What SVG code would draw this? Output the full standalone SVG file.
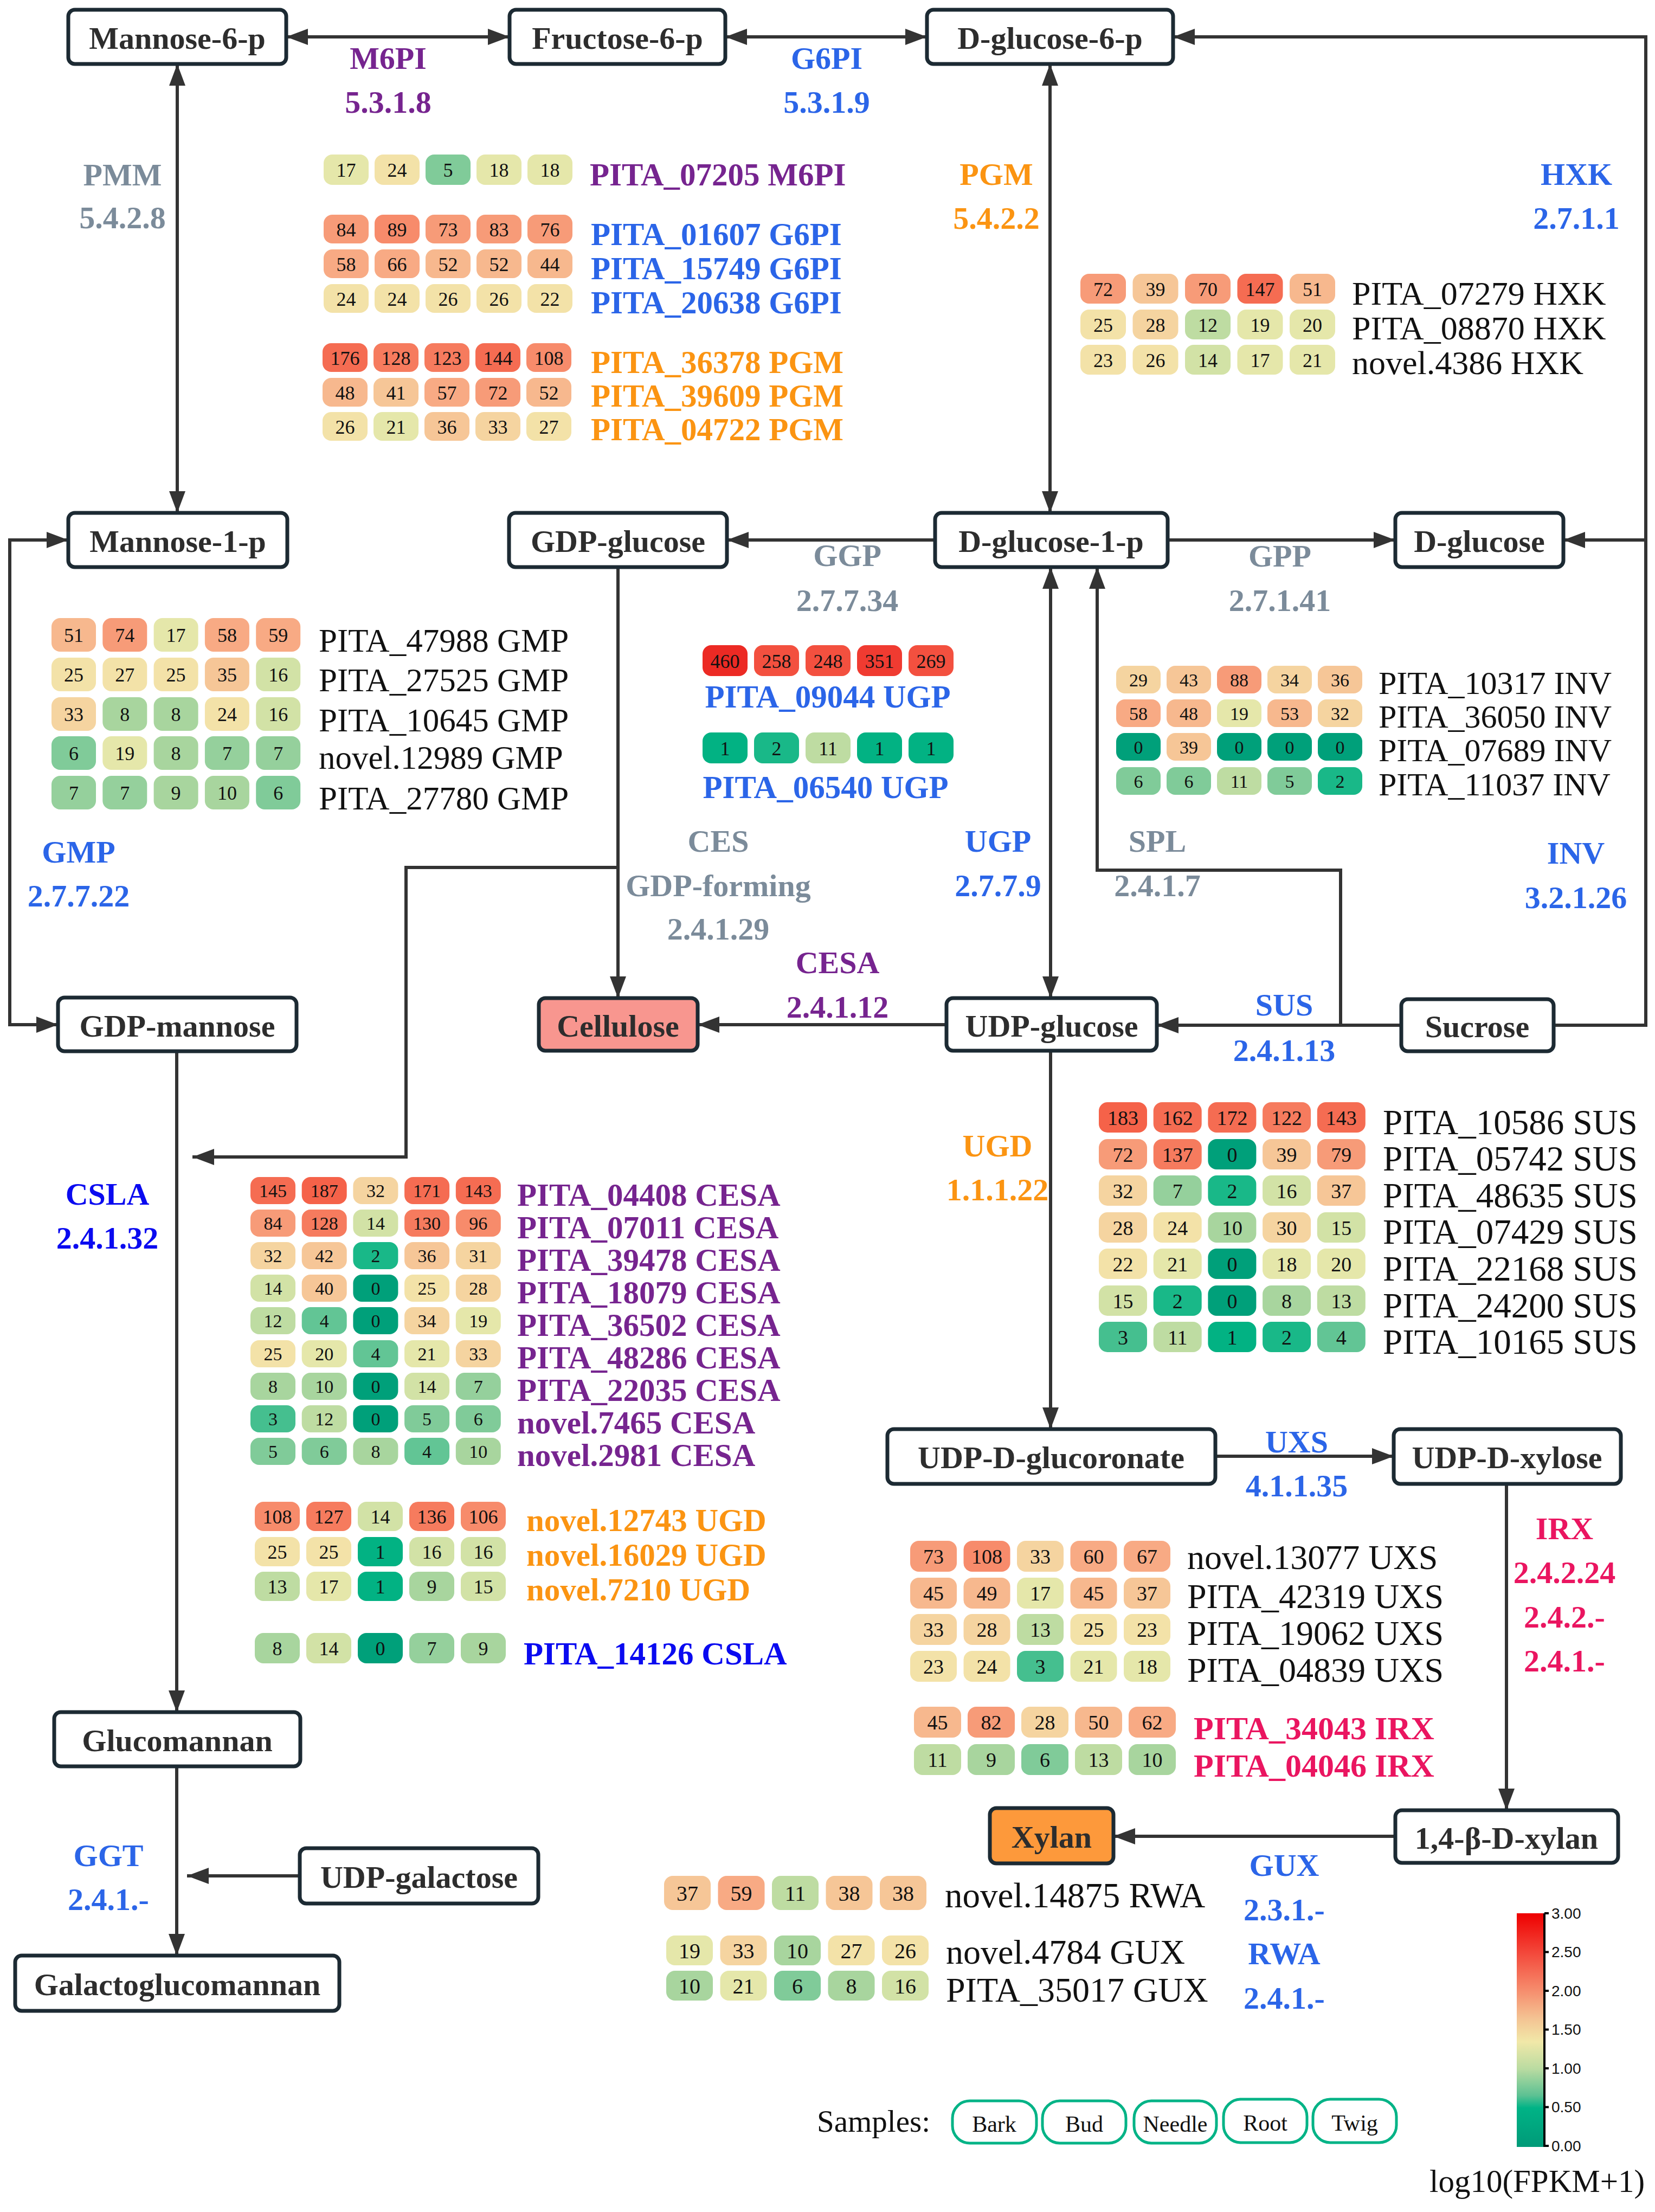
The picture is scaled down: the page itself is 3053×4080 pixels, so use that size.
<svg xmlns="http://www.w3.org/2000/svg" width="3053" height="4080" viewBox="0 0 3053 4080">
<defs>
<style>
text{font-family:"Liberation Serif","Times New Roman",serif}
.n rect{fill:#fff;stroke:#1c2a33;stroke-width:7}
.n text{font-weight:bold;font-size:58px;fill:#2d2d2d;text-anchor:middle}
.conn path{stroke:#333;stroke-width:6;fill:none}
.e{font-weight:bold;font-size:58px;text-anchor:middle}
.pu{fill:#76248f}.bl{fill:#2b65e8}.gy{fill:#7b8b9a}.or{fill:#fb9412}.cr{fill:#ea1560}.db{fill:#0a0af0}
.g{font-size:58px;fill:#111}
.gb{font-size:59px;font-weight:bold}
.hm text{font-size:36px;fill:#111;text-anchor:middle}
.hm.S text{font-size:34px}
.hm.L text{font-size:38px}
.hm.XL text{font-size:40px}
.k0{fill:#00a07a}.k3{fill:#02b283}.k5{fill:#19b888}.k6{fill:#45bf8f}.k7{fill:#62c595}.k8{fill:#80cb99}.k9{fill:#95d09c}.k10{fill:#a8d59e}.k11{fill:#bedca2}.k12{fill:#d2e2a6}.k13{fill:#e5e7aa}.k14{fill:#f3e2a8}.k15{fill:#f5d4a0}.k16{fill:#f6c697}.k17{fill:#f7b88e}.k18{fill:#f8aa84}.k19{fill:#f79b78}.k20{fill:#f78b6b}.k21{fill:#f67b5e}.k22{fill:#f56c52}.k23{fill:#f56249}.k24{fill:#f3503f}.k25{fill:#f03b31}.k27{fill:#ec2a24}
.pill rect{fill:#fff;stroke:#00b386;stroke-width:5}
.pill text{font-size:42px;fill:#111;text-anchor:middle}
.cbl{font-family:"Liberation Sans",Arial,sans-serif;font-size:28px;fill:#111}
</style>
<marker id="ah" viewBox="0 0 40 30" refX="40" refY="15" markerWidth="40" markerHeight="30" markerUnits="userSpaceOnUse" orient="auto-start-reverse"><path d="M0,0 L40,15 L0,30 z" fill="#333"/></marker>
<linearGradient id="cb" x1="0" y1="0" x2="0" y2="1">
<stop offset="0" stop-color="#ee0000"/>
<stop offset="0.167" stop-color="#f3473a"/>
<stop offset="0.333" stop-color="#f68e6e"/>
<stop offset="0.45" stop-color="#f4c393"/>
<stop offset="0.55" stop-color="#f1e8a8"/>
<stop offset="0.667" stop-color="#b9dba1"/>
<stop offset="0.78" stop-color="#5cc193"/>
<stop offset="0.833" stop-color="#00b386"/>
<stop offset="1" stop-color="#009a78"/>
</linearGradient>
</defs>
<rect width="3053" height="4080" fill="#fff"/>

<g id="connectors" class="conn">
<path d="M528,68 H940" marker-start="url(#ah)" marker-end="url(#ah)"/>
<path d="M1338,68 H1710" marker-start="url(#ah)" marker-end="url(#ah)"/>
<path d="M327,118 V946" marker-start="url(#ah)" marker-end="url(#ah)"/>
<path d="M1937,118 V946" marker-start="url(#ah)" marker-end="url(#ah)"/>
<path d="M1725,996 H1341" marker-end="url(#ah)"/>
<path d="M2154,996 H2574" marker-end="url(#ah)"/>
<path d="M2866,1891 H3036 V68 H2164" marker-end="url(#ah)"/>
<path d="M3036,996 H2884" marker-end="url(#ah)"/>
<path d="M126,996 H18 V1890 H107" marker-start="url(#ah)" marker-end="url(#ah)"/>
<path d="M1140,1046 V1841" marker-end="url(#ah)"/>
<path d="M1140,1600 H749 V2134 H355" marker-end="url(#ah)"/>
<path d="M1746,1890 H1287" marker-end="url(#ah)"/>
<path d="M1938,1046 V1841" marker-start="url(#ah)" marker-end="url(#ah)"/>
<path d="M2473,1891 V1605 H2024 V1046" marker-end="url(#ah)"/>
<path d="M2585,1891 H2134" marker-end="url(#ah)"/>
<path d="M1938,1938 V2636" marker-end="url(#ah)"/>
<path d="M2242,2686 H2571" marker-end="url(#ah)"/>
<path d="M2779,2737 V3339" marker-end="url(#ah)"/>
<path d="M2574,3387 H2054" marker-end="url(#ah)"/>
<path d="M326,1939 V3158" marker-end="url(#ah)"/>
<path d="M326,3258 V3607" marker-end="url(#ah)"/>
<path d="M553,3460 H345" marker-end="url(#ah)"/>
</g>

<g id="n-mannose6p" class="n"><rect x="126" y="18" width="402" height="100" rx="12"/><text x="327" y="90">Mannose-6-p</text></g>
<g id="n-fructose6p" class="n"><rect x="940" y="18" width="398" height="100" rx="12"/><text x="1139" y="90">Fructose-6-p</text></g>
<g id="n-dglucose6p" class="n"><rect x="1710" y="18" width="454" height="100" rx="12"/><text x="1937" y="90">D-glucose-6-p</text></g>
<g id="n-mannose1p" class="n"><rect x="126" y="946" width="404" height="100" rx="12"/><text x="328" y="1018">Mannose-1-p</text></g>
<g id="n-gdpglucose" class="n"><rect x="939" y="946" width="402" height="100" rx="12"/><text x="1140" y="1018">GDP-glucose</text></g>
<g id="n-dglucose1p" class="n"><rect x="1725" y="946" width="429" height="100" rx="12"/><text x="1939" y="1018">D-glucose-1-p</text></g>
<g id="n-dglucose" class="n"><rect x="2574" y="946" width="310" height="100" rx="12"/><text x="2729" y="1018">D-glucose</text></g>
<g id="n-gdpmannose" class="n"><rect x="107" y="1840" width="440" height="99" rx="12"/><text x="327" y="1912">GDP-mannose</text></g>
<g id="n-cellulose" class="n"><rect x="994" y="1841" width="293" height="97" rx="12" style="fill:#f8968f"/><text x="1140" y="1912">Cellulose</text></g>
<g id="n-udpglucose" class="n"><rect x="1746" y="1841" width="388" height="97" rx="12"/><text x="1940" y="1912">UDP-glucose</text></g>
<g id="n-sucrose" class="n"><rect x="2585" y="1843" width="281" height="96" rx="12"/><text x="2725" y="1913">Sucrose</text></g>
<g id="n-udpdglucoronate" class="n"><rect x="1637" y="2636" width="605" height="101" rx="12"/><text x="1939" y="2708">UDP-D-glucoronate</text></g>
<g id="n-udpdxylose" class="n"><rect x="2571" y="2636" width="419" height="101" rx="12"/><text x="2780" y="2708">UDP-D-xylose</text></g>
<g id="n-glucomannan" class="n"><rect x="100" y="3158" width="454" height="100" rx="12"/><text x="327" y="3230">Glucomannan</text></g>
<g id="n-udpgalactose" class="n"><rect x="553" y="3409" width="440" height="102" rx="12"/><text x="773" y="3482">UDP-galactose</text></g>
<g id="n-galactoglucomannan" class="n"><rect x="28" y="3607" width="598" height="102" rx="12"/><text x="327" y="3680">Galactoglucomannan</text></g>
<g id="n-xylan" class="n"><rect x="1826" y="3335" width="228" height="102" rx="12" style="fill:#fd993b"/><text x="1940" y="3408">Xylan</text></g>
<g id="n-14bdxylan" class="n"><rect x="2574" y="3339" width="411" height="97" rx="12"/><text x="2779" y="3410">1,4-β-D-xylan</text></g>

<g id="enzymes">
<text class="e pu" x="716" y="127">M6PI</text><text class="e pu" x="716" y="208">5.3.1.8</text>
<text class="e bl" x="1525" y="127">G6PI</text><text class="e bl" x="1525" y="208">5.3.1.9</text>
<text class="e gy" x="226" y="342">PMM</text><text class="e gy" x="226" y="421">5.4.2.8</text>
<text class="e or" x="1838" y="341">PGM</text><text class="e or" x="1838" y="422">5.4.2.2</text>
<text class="e bl" x="2908" y="341">HXK</text><text class="e bl" x="2908" y="422">2.7.1.1</text>
<text class="e bl" x="145" y="1591">GMP</text><text class="e bl" x="145" y="1672">2.7.7.22</text>
<text class="e gy" x="1563" y="1044">GGP</text><text class="e gy" x="1563" y="1127">2.7.7.34</text>
<text class="e gy" x="2361" y="1045">GPP</text><text class="e gy" x="2361" y="1127">2.7.1.41</text>
<text class="e gy" x="1325" y="1571">CES</text><text class="e gy" x="1325" y="1653">GDP-forming</text><text class="e gy" x="1325" y="1733">2.4.1.29</text>
<text class="e bl" x="1841" y="1571">UGP</text><text class="e bl" x="1841" y="1653">2.7.7.9</text>
<text class="e gy" x="2135" y="1571">SPL</text><text class="e gy" x="2135" y="1653">2.4.1.7</text>
<text class="e bl" x="2907" y="1593">INV</text><text class="e bl" x="2907" y="1675">3.2.1.26</text>
<text class="e pu" x="1545" y="1795">CESA</text><text class="e pu" x="1545" y="1877">2.4.1.12</text>
<text class="e bl" x="2369" y="1873">SUS</text><text class="e bl" x="2369" y="1957">2.4.1.13</text>
<text class="e db" x="198" y="2222">CSLA</text><text class="e db" x="198" y="2303">2.4.1.32</text>
<text class="e or" x="1840" y="2133">UGD</text><text class="e or" x="1840" y="2214">1.1.1.22</text>
<text class="e bl" x="2392" y="2679">UXS</text><text class="e bl" x="2392" y="2760">4.1.1.35</text>
<text class="e cr" x="2886" y="2839">IRX</text><text class="e cr" x="2886" y="2920">2.4.2.24</text><text class="e cr" x="2886" y="3002">2.4.2.-</text><text class="e cr" x="2886" y="3083">2.4.1.-</text>
<text class="e bl" x="200" y="3442">GGT</text><text class="e bl" x="200" y="3523">2.4.1.-</text>
<text class="e bl" x="2369" y="3460">GUX</text><text class="e bl" x="2369" y="3542">2.3.1.-</text><text class="e bl" x="2369" y="3623">RWA</text><text class="e bl" x="2369" y="3705">2.4.1.-</text>
</g>

<g id="hm-m6pi" class="hm">
<g transform="translate(597,285)"><rect class="k13" width="83" height="56" rx="16"/><rect class="k14" x="94" width="83" height="56" rx="16"/><rect class="k8" x="188" width="83" height="56" rx="16"/><rect class="k13" x="282" width="83" height="56" rx="16"/><rect class="k13" x="376" width="83" height="56" rx="16"/><text x="41.5" y="41">17</text><text x="135.5" y="41">24</text><text x="229.5" y="41">5</text><text x="323.5" y="41">18</text><text x="417.5" y="41">18</text></g>
</g>
<text class="gb pu" x="1088" y="342">PITA_07205 M6PI</text>

<g id="hm-g6pi" class="hm">
<g transform="translate(597,396)"><rect class="k19" width="83" height="53" rx="16"/><rect class="k20" x="94" width="83" height="53" rx="16"/><rect class="k19" x="188" width="83" height="53" rx="16"/><rect class="k19" x="282" width="83" height="53" rx="16"/><rect class="k19" x="376" width="83" height="53" rx="16"/><text x="41.5" y="40">84</text><text x="135.5" y="40">89</text><text x="229.5" y="40">73</text><text x="323.5" y="40">83</text><text x="417.5" y="40">76</text></g>
<g transform="translate(597,460)"><rect class="k18" width="83" height="53" rx="16"/><rect class="k18" x="94" width="83" height="53" rx="16"/><rect class="k17" x="188" width="83" height="53" rx="16"/><rect class="k17" x="282" width="83" height="53" rx="16"/><rect class="k17" x="376" width="83" height="53" rx="16"/><text x="41.5" y="40">58</text><text x="135.5" y="40">66</text><text x="229.5" y="40">52</text><text x="323.5" y="40">52</text><text x="417.5" y="40">44</text></g>
<g transform="translate(597,524)"><rect class="k14" width="83" height="53" rx="16"/><rect class="k14" x="94" width="83" height="53" rx="16"/><rect class="k14" x="188" width="83" height="53" rx="16"/><rect class="k14" x="282" width="83" height="53" rx="16"/><rect class="k14" x="376" width="83" height="53" rx="16"/><text x="41.5" y="40">24</text><text x="135.5" y="40">24</text><text x="229.5" y="40">26</text><text x="323.5" y="40">26</text><text x="417.5" y="40">22</text></g>
</g>
<text class="gb bl" x="1090" y="452">PITA_01607 G6PI</text>
<text class="gb bl" x="1090" y="515">PITA_15749 G6PI</text>
<text class="gb bl" x="1090" y="578">PITA_20638 G6PI</text>

<g id="hm-pgm" class="hm">
<g transform="translate(595,633)"><rect class="k22" width="83" height="53" rx="16"/><rect class="k21" x="94" width="83" height="53" rx="16"/><rect class="k21" x="188" width="83" height="53" rx="16"/><rect class="k22" x="282" width="83" height="53" rx="16"/><rect class="k20" x="376" width="83" height="53" rx="16"/><text x="41.5" y="40">176</text><text x="135.5" y="40">128</text><text x="229.5" y="40">123</text><text x="323.5" y="40">144</text><text x="417.5" y="40">108</text></g>
<g transform="translate(595,697)"><rect class="k17" width="83" height="53" rx="16"/><rect class="k16" x="94" width="83" height="53" rx="16"/><rect class="k18" x="188" width="83" height="53" rx="16"/><rect class="k19" x="282" width="83" height="53" rx="16"/><rect class="k17" x="376" width="83" height="53" rx="16"/><text x="41.5" y="40">48</text><text x="135.5" y="40">41</text><text x="229.5" y="40">57</text><text x="323.5" y="40">72</text><text x="417.5" y="40">52</text></g>
<g transform="translate(595,760)"><rect class="k14" width="83" height="53" rx="16"/><rect class="k13" x="94" width="83" height="53" rx="16"/><rect class="k16" x="188" width="83" height="53" rx="16"/><rect class="k15" x="282" width="83" height="53" rx="16"/><rect class="k14" x="376" width="83" height="53" rx="16"/><text x="41.5" y="40">26</text><text x="135.5" y="40">21</text><text x="229.5" y="40">36</text><text x="323.5" y="40">33</text><text x="417.5" y="40">27</text></g>
</g>
<text class="gb or" x="1090" y="688">PITA_36378 PGM</text>
<text class="gb or" x="1090" y="750">PITA_39609 PGM</text>
<text class="gb or" x="1090" y="812">PITA_04722 PGM</text>

<g id="hm-hxk" class="hm">
<g transform="translate(1993,505)"><rect class="k19" width="84" height="55" rx="16"/><rect class="k16" x="96.5" width="84" height="55" rx="16"/><rect class="k19" x="193" width="84" height="55" rx="16"/><rect class="k22" x="289.5" width="84" height="55" rx="16"/><rect class="k17" x="386" width="84" height="55" rx="16"/><text x="42" y="41">72</text><text x="138.5" y="41">39</text><text x="235" y="41">70</text><text x="331.5" y="41">147</text><text x="428" y="41">51</text></g>
<g transform="translate(1993,571)"><rect class="k14" width="84" height="55" rx="16"/><rect class="k15" x="96.5" width="84" height="55" rx="16"/><rect class="k11" x="193" width="84" height="55" rx="16"/><rect class="k13" x="289.5" width="84" height="55" rx="16"/><rect class="k13" x="386" width="84" height="55" rx="16"/><text x="42" y="41">25</text><text x="138.5" y="41">28</text><text x="235" y="41">12</text><text x="331.5" y="41">19</text><text x="428" y="41">20</text></g>
<g transform="translate(1993,636)"><rect class="k14" width="84" height="55" rx="16"/><rect class="k14" x="96.5" width="84" height="55" rx="16"/><rect class="k12" x="193" width="84" height="55" rx="16"/><rect class="k13" x="289.5" width="84" height="55" rx="16"/><rect class="k13" x="386" width="84" height="55" rx="16"/><text x="42" y="41">23</text><text x="138.5" y="41">26</text><text x="235" y="41">14</text><text x="331.5" y="41">17</text><text x="428" y="41">21</text></g>
</g>
<text class="g" x="2494" y="562" style="font-size:62px">PITA_07279 HXK</text>
<text class="g" x="2494" y="626" style="font-size:62px">PITA_08870 HXK</text>
<text class="g" x="2494" y="690" style="font-size:62px">novel.4386 HXK</text>

<g id="hm-gmp" class="hm">
<g transform="translate(95,1140)"><rect class="k17" width="82" height="62" rx="16"/><rect class="k19" x="94.3" width="82" height="62" rx="16"/><rect class="k13" x="188.6" width="82" height="62" rx="16"/><rect class="k18" x="282.9" width="82" height="62" rx="16"/><rect class="k18" x="377.2" width="82" height="62" rx="16"/><text x="41" y="44">51</text><text x="135.3" y="44">74</text><text x="229.6" y="44">17</text><text x="323.9" y="44">58</text><text x="418.2" y="44">59</text></g>
<g transform="translate(95,1213)"><rect class="k14" width="82" height="62" rx="16"/><rect class="k14" x="94.3" width="82" height="62" rx="16"/><rect class="k14" x="188.6" width="82" height="62" rx="16"/><rect class="k16" x="282.9" width="82" height="62" rx="16"/><rect class="k12" x="377.2" width="82" height="62" rx="16"/><text x="41" y="44">25</text><text x="135.3" y="44">27</text><text x="229.6" y="44">25</text><text x="323.9" y="44">35</text><text x="418.2" y="44">16</text></g>
<g transform="translate(95,1286)"><rect class="k15" width="82" height="62" rx="16"/><rect class="k10" x="94.3" width="82" height="62" rx="16"/><rect class="k10" x="188.6" width="82" height="62" rx="16"/><rect class="k14" x="282.9" width="82" height="62" rx="16"/><rect class="k12" x="377.2" width="82" height="62" rx="16"/><text x="41" y="44">33</text><text x="135.3" y="44">8</text><text x="229.6" y="44">8</text><text x="323.9" y="44">24</text><text x="418.2" y="44">16</text></g>
<g transform="translate(95,1358)"><rect class="k8" width="82" height="62" rx="16"/><rect class="k13" x="94.3" width="82" height="62" rx="16"/><rect class="k10" x="188.6" width="82" height="62" rx="16"/><rect class="k9" x="282.9" width="82" height="62" rx="16"/><rect class="k9" x="377.2" width="82" height="62" rx="16"/><text x="41" y="44">6</text><text x="135.3" y="44">19</text><text x="229.6" y="44">8</text><text x="323.9" y="44">7</text><text x="418.2" y="44">7</text></g>
<g transform="translate(95,1431)"><rect class="k9" width="82" height="62" rx="16"/><rect class="k9" x="94.3" width="82" height="62" rx="16"/><rect class="k10" x="188.6" width="82" height="62" rx="16"/><rect class="k10" x="282.9" width="82" height="62" rx="16"/><rect class="k8" x="377.2" width="82" height="62" rx="16"/><text x="41" y="44">7</text><text x="135.3" y="44">7</text><text x="229.6" y="44">9</text><text x="323.9" y="44">10</text><text x="418.2" y="44">6</text></g>
</g>
<text class="g" x="588" y="1202" style="font-size:61px">PITA_47988 GMP</text>
<text class="g" x="588" y="1275" style="font-size:61px">PITA_27525 GMP</text>
<text class="g" x="588" y="1349" style="font-size:61px">PITA_10645 GMP</text>
<text class="g" x="588" y="1418" style="font-size:61px">novel.12989 GMP</text>
<text class="g" x="588" y="1493" style="font-size:61px">PITA_27780 GMP</text>

<g id="hm-ugp" class="hm">
<g transform="translate(1296,1190)"><rect class="k27" width="83" height="57" rx="16"/><rect class="k24" x="95" width="83" height="57" rx="16"/><rect class="k24" x="190" width="83" height="57" rx="16"/><rect class="k25" x="285" width="83" height="57" rx="16"/><rect class="k24" x="380" width="83" height="57" rx="16"/><text x="41.5" y="42">460</text><text x="136.5" y="42">258</text><text x="231.5" y="42">248</text><text x="326.5" y="42">351</text><text x="421.5" y="42">269</text></g>
<g transform="translate(1296,1351)"><rect class="k3" width="83" height="57" rx="16"/><rect class="k5" x="95" width="83" height="57" rx="16"/><rect class="k11" x="190" width="83" height="57" rx="16"/><rect class="k3" x="285" width="83" height="57" rx="16"/><rect class="k3" x="380" width="83" height="57" rx="16"/><text x="41.5" y="42">1</text><text x="136.5" y="42">2</text><text x="231.5" y="42">11</text><text x="326.5" y="42">1</text><text x="421.5" y="42">1</text></g>
</g>
<text class="gb bl" x="1527" y="1305" text-anchor="middle">PITA_09044 UGP</text>
<text class="gb bl" x="1523" y="1472" text-anchor="middle">PITA_06540 UGP</text>

<g id="hm-inv" class="hm S">
<g transform="translate(2059,1228)"><rect class="k15" width="82" height="51" rx="16"/><rect class="k16" x="93" width="82" height="51" rx="16"/><rect class="k19" x="186" width="82" height="51" rx="16"/><rect class="k15" x="279" width="82" height="51" rx="16"/><rect class="k16" x="372" width="82" height="51" rx="16"/><text x="41" y="38">29</text><text x="134" y="38">43</text><text x="227" y="38">88</text><text x="320" y="38">34</text><text x="413" y="38">36</text></g>
<g transform="translate(2059,1290)"><rect class="k18" width="82" height="51" rx="16"/><rect class="k17" x="93" width="82" height="51" rx="16"/><rect class="k13" x="186" width="82" height="51" rx="16"/><rect class="k17" x="279" width="82" height="51" rx="16"/><rect class="k15" x="372" width="82" height="51" rx="16"/><text x="41" y="38">58</text><text x="134" y="38">48</text><text x="227" y="38">19</text><text x="320" y="38">53</text><text x="413" y="38">32</text></g>
<g transform="translate(2059,1352)"><rect class="k0" width="82" height="51" rx="16"/><rect class="k16" x="93" width="82" height="51" rx="16"/><rect class="k0" x="186" width="82" height="51" rx="16"/><rect class="k0" x="279" width="82" height="51" rx="16"/><rect class="k0" x="372" width="82" height="51" rx="16"/><text x="41" y="38">0</text><text x="134" y="38">39</text><text x="227" y="38">0</text><text x="320" y="38">0</text><text x="413" y="38">0</text></g>
<g transform="translate(2059,1415)"><rect class="k8" width="82" height="51" rx="16"/><rect class="k8" x="93" width="82" height="51" rx="16"/><rect class="k11" x="186" width="82" height="51" rx="16"/><rect class="k8" x="279" width="82" height="51" rx="16"/><rect class="k5" x="372" width="82" height="51" rx="16"/><text x="41" y="38">6</text><text x="134" y="38">6</text><text x="227" y="38">11</text><text x="320" y="38">5</text><text x="413" y="38">2</text></g>
</g>
<text class="g" x="2543" y="1280" style="font-size:60px">PITA_10317 INV</text>
<text class="g" x="2543" y="1342" style="font-size:60px">PITA_36050 INV</text>
<text class="g" x="2543" y="1404" style="font-size:60px">PITA_07689 INV</text>
<text class="g" x="2543" y="1467" style="font-size:60px">PITA_11037 INV</text>

<g id="hm-sus" class="hm L">
<g transform="translate(2027,2033)"><rect class="k23" width="89" height="56" rx="16"/><rect class="k22" x="100.7" width="89" height="56" rx="16"/><rect class="k22" x="201.4" width="89" height="56" rx="16"/><rect class="k21" x="302.1" width="89" height="56" rx="16"/><rect class="k22" x="402.8" width="89" height="56" rx="16"/><text x="44.5" y="42">183</text><text x="145.2" y="42">162</text><text x="245.9" y="42">172</text><text x="346.6" y="42">122</text><text x="447.3" y="42">143</text></g>
<g transform="translate(2027,2101)"><rect class="k19" width="89" height="56" rx="16"/><rect class="k21" x="100.7" width="89" height="56" rx="16"/><rect class="k0" x="201.4" width="89" height="56" rx="16"/><rect class="k16" x="302.1" width="89" height="56" rx="16"/><rect class="k19" x="402.8" width="89" height="56" rx="16"/><text x="44.5" y="42">72</text><text x="145.2" y="42">137</text><text x="245.9" y="42">0</text><text x="346.6" y="42">39</text><text x="447.3" y="42">79</text></g>
<g transform="translate(2027,2168)"><rect class="k15" width="89" height="56" rx="16"/><rect class="k9" x="100.7" width="89" height="56" rx="16"/><rect class="k5" x="201.4" width="89" height="56" rx="16"/><rect class="k12" x="302.1" width="89" height="56" rx="16"/><rect class="k16" x="402.8" width="89" height="56" rx="16"/><text x="44.5" y="42">32</text><text x="145.2" y="42">7</text><text x="245.9" y="42">2</text><text x="346.6" y="42">16</text><text x="447.3" y="42">37</text></g>
<g transform="translate(2027,2236)"><rect class="k15" width="89" height="56" rx="16"/><rect class="k14" x="100.7" width="89" height="56" rx="16"/><rect class="k10" x="201.4" width="89" height="56" rx="16"/><rect class="k15" x="302.1" width="89" height="56" rx="16"/><rect class="k12" x="402.8" width="89" height="56" rx="16"/><text x="44.5" y="42">28</text><text x="145.2" y="42">24</text><text x="245.9" y="42">10</text><text x="346.6" y="42">30</text><text x="447.3" y="42">15</text></g>
<g transform="translate(2027,2303)"><rect class="k14" width="89" height="56" rx="16"/><rect class="k13" x="100.7" width="89" height="56" rx="16"/><rect class="k0" x="201.4" width="89" height="56" rx="16"/><rect class="k13" x="302.1" width="89" height="56" rx="16"/><rect class="k13" x="402.8" width="89" height="56" rx="16"/><text x="44.5" y="42">22</text><text x="145.2" y="42">21</text><text x="245.9" y="42">0</text><text x="346.6" y="42">18</text><text x="447.3" y="42">20</text></g>
<g transform="translate(2027,2371)"><rect class="k12" width="89" height="56" rx="16"/><rect class="k5" x="100.7" width="89" height="56" rx="16"/><rect class="k0" x="201.4" width="89" height="56" rx="16"/><rect class="k10" x="302.1" width="89" height="56" rx="16"/><rect class="k11" x="402.8" width="89" height="56" rx="16"/><text x="44.5" y="42">15</text><text x="145.2" y="42">2</text><text x="245.9" y="42">0</text><text x="346.6" y="42">8</text><text x="447.3" y="42">13</text></g>
<g transform="translate(2027,2438)"><rect class="k6" width="89" height="56" rx="16"/><rect class="k11" x="100.7" width="89" height="56" rx="16"/><rect class="k3" x="201.4" width="89" height="56" rx="16"/><rect class="k5" x="302.1" width="89" height="56" rx="16"/><rect class="k7" x="402.8" width="89" height="56" rx="16"/><text x="44.5" y="42">3</text><text x="145.2" y="42">11</text><text x="245.9" y="42">1</text><text x="346.6" y="42">2</text><text x="447.3" y="42">4</text></g>
</g>
<g id="sus-labels">
<text class="g" x="2551" y="2092" style="font-size:65px">PITA_10586 SUS</text>
<text class="g" x="2551" y="2159" style="font-size:65px">PITA_05742 SUS</text>
<text class="g" x="2551" y="2227" style="font-size:65px">PITA_48635 SUS</text>
<text class="g" x="2551" y="2294" style="font-size:65px">PITA_07429 SUS</text>
<text class="g" x="2551" y="2362" style="font-size:65px">PITA_22168 SUS</text>
<text class="g" x="2551" y="2430" style="font-size:65px">PITA_24200 SUS</text>
<text class="g" x="2551" y="2497" style="font-size:65px">PITA_10165 SUS</text>
</g>

<g id="hm-cesa" class="hm S">
<g transform="translate(462,2171)"><rect class="k22" width="83" height="50" rx="16"/><rect class="k23" x="94.7" width="83" height="50" rx="16"/><rect class="k15" x="189.4" width="83" height="50" rx="16"/><rect class="k22" x="284.1" width="83" height="50" rx="16"/><rect class="k22" x="378.8" width="83" height="50" rx="16"/><text x="41.5" y="37">145</text><text x="136.2" y="37">187</text><text x="230.9" y="37">32</text><text x="325.6" y="37">171</text><text x="420.3" y="37">143</text></g>
<g transform="translate(462,2231)"><rect class="k19" width="83" height="50" rx="16"/><rect class="k21" x="94.7" width="83" height="50" rx="16"/><rect class="k12" x="189.4" width="83" height="50" rx="16"/><rect class="k21" x="284.1" width="83" height="50" rx="16"/><rect class="k20" x="378.8" width="83" height="50" rx="16"/><text x="41.5" y="37">84</text><text x="136.2" y="37">128</text><text x="230.9" y="37">14</text><text x="325.6" y="37">130</text><text x="420.3" y="37">96</text></g>
<g transform="translate(462,2291)"><rect class="k15" width="83" height="50" rx="16"/><rect class="k16" x="94.7" width="83" height="50" rx="16"/><rect class="k5" x="189.4" width="83" height="50" rx="16"/><rect class="k16" x="284.1" width="83" height="50" rx="16"/><rect class="k15" x="378.8" width="83" height="50" rx="16"/><text x="41.5" y="37">32</text><text x="136.2" y="37">42</text><text x="230.9" y="37">2</text><text x="325.6" y="37">36</text><text x="420.3" y="37">31</text></g>
<g transform="translate(462,2351)"><rect class="k12" width="83" height="50" rx="16"/><rect class="k16" x="94.7" width="83" height="50" rx="16"/><rect class="k0" x="189.4" width="83" height="50" rx="16"/><rect class="k14" x="284.1" width="83" height="50" rx="16"/><rect class="k15" x="378.8" width="83" height="50" rx="16"/><text x="41.5" y="37">14</text><text x="136.2" y="37">40</text><text x="230.9" y="37">0</text><text x="325.6" y="37">25</text><text x="420.3" y="37">28</text></g>
<g transform="translate(462,2411)"><rect class="k11" width="83" height="50" rx="16"/><rect class="k7" x="94.7" width="83" height="50" rx="16"/><rect class="k0" x="189.4" width="83" height="50" rx="16"/><rect class="k15" x="284.1" width="83" height="50" rx="16"/><rect class="k13" x="378.8" width="83" height="50" rx="16"/><text x="41.5" y="37">12</text><text x="136.2" y="37">4</text><text x="230.9" y="37">0</text><text x="325.6" y="37">34</text><text x="420.3" y="37">19</text></g>
<g transform="translate(462,2472)"><rect class="k14" width="83" height="50" rx="16"/><rect class="k13" x="94.7" width="83" height="50" rx="16"/><rect class="k7" x="189.4" width="83" height="50" rx="16"/><rect class="k13" x="284.1" width="83" height="50" rx="16"/><rect class="k15" x="378.8" width="83" height="50" rx="16"/><text x="41.5" y="37">25</text><text x="136.2" y="37">20</text><text x="230.9" y="37">4</text><text x="325.6" y="37">21</text><text x="420.3" y="37">33</text></g>
<g transform="translate(462,2532)"><rect class="k10" width="83" height="50" rx="16"/><rect class="k10" x="94.7" width="83" height="50" rx="16"/><rect class="k0" x="189.4" width="83" height="50" rx="16"/><rect class="k12" x="284.1" width="83" height="50" rx="16"/><rect class="k9" x="378.8" width="83" height="50" rx="16"/><text x="41.5" y="37">8</text><text x="136.2" y="37">10</text><text x="230.9" y="37">0</text><text x="325.6" y="37">14</text><text x="420.3" y="37">7</text></g>
<g transform="translate(462,2592)"><rect class="k6" width="83" height="50" rx="16"/><rect class="k11" x="94.7" width="83" height="50" rx="16"/><rect class="k0" x="189.4" width="83" height="50" rx="16"/><rect class="k8" x="284.1" width="83" height="50" rx="16"/><rect class="k8" x="378.8" width="83" height="50" rx="16"/><text x="41.5" y="37">3</text><text x="136.2" y="37">12</text><text x="230.9" y="37">0</text><text x="325.6" y="37">5</text><text x="420.3" y="37">6</text></g>
<g transform="translate(462,2652)"><rect class="k8" width="83" height="50" rx="16"/><rect class="k8" x="94.7" width="83" height="50" rx="16"/><rect class="k10" x="189.4" width="83" height="50" rx="16"/><rect class="k7" x="284.1" width="83" height="50" rx="16"/><rect class="k10" x="378.8" width="83" height="50" rx="16"/><text x="41.5" y="37">5</text><text x="136.2" y="37">6</text><text x="230.9" y="37">8</text><text x="325.6" y="37">4</text><text x="420.3" y="37">10</text></g>
</g>
<text class="gb pu" x="954" y="2224">PITA_04408 CESA</text>
<text class="gb pu" x="954" y="2284">PITA_07011 CESA</text>
<text class="gb pu" x="954" y="2344">PITA_39478 CESA</text>
<text class="gb pu" x="954" y="2404">PITA_18079 CESA</text>
<text class="gb pu" x="954" y="2464">PITA_36502 CESA</text>
<text class="gb pu" x="954" y="2524">PITA_48286 CESA</text>
<text class="gb pu" x="954" y="2584">PITA_22035 CESA</text>
<text class="gb pu" x="954" y="2644">novel.7465 CESA</text>
<text class="gb pu" x="954" y="2704">novel.2981 CESA</text>

<g id="hm-ugd" class="hm">
<g transform="translate(470,2770)"><rect class="k20" width="83" height="54" rx="16"/><rect class="k21" x="95" width="83" height="54" rx="16"/><rect class="k12" x="190" width="83" height="54" rx="16"/><rect class="k21" x="285" width="83" height="54" rx="16"/><rect class="k20" x="380" width="83" height="54" rx="16"/><text x="41.5" y="40">108</text><text x="136.5" y="40">127</text><text x="231.5" y="40">14</text><text x="326.5" y="40">136</text><text x="421.5" y="40">106</text></g>
<g transform="translate(470,2835)"><rect class="k14" width="83" height="54" rx="16"/><rect class="k14" x="95" width="83" height="54" rx="16"/><rect class="k3" x="190" width="83" height="54" rx="16"/><rect class="k12" x="285" width="83" height="54" rx="16"/><rect class="k12" x="380" width="83" height="54" rx="16"/><text x="41.5" y="40">25</text><text x="136.5" y="40">25</text><text x="231.5" y="40">1</text><text x="326.5" y="40">16</text><text x="421.5" y="40">16</text></g>
<g transform="translate(470,2899)"><rect class="k11" width="83" height="54" rx="16"/><rect class="k13" x="95" width="83" height="54" rx="16"/><rect class="k3" x="190" width="83" height="54" rx="16"/><rect class="k10" x="285" width="83" height="54" rx="16"/><rect class="k12" x="380" width="83" height="54" rx="16"/><text x="41.5" y="40">13</text><text x="136.5" y="40">17</text><text x="231.5" y="40">1</text><text x="326.5" y="40">9</text><text x="421.5" y="40">15</text></g>
</g>
<text class="gb or" x="971" y="2824">novel.12743 UGD</text>
<text class="gb or" x="971" y="2888">novel.16029 UGD</text>
<text class="gb or" x="971" y="2952">novel.7210 UGD</text>

<g id="hm-csla" class="hm">
<g transform="translate(470,3012)"><rect class="k10" width="83" height="56" rx="16"/><rect class="k12" x="95" width="83" height="56" rx="16"/><rect class="k0" x="190" width="83" height="56" rx="16"/><rect class="k9" x="285" width="83" height="56" rx="16"/><rect class="k10" x="380" width="83" height="56" rx="16"/><text x="41.5" y="41">8</text><text x="136.5" y="41">14</text><text x="231.5" y="41">0</text><text x="326.5" y="41">7</text><text x="421.5" y="41">9</text></g>
</g>
<text class="gb db" x="966" y="3070">PITA_14126 CSLA</text>

<g id="hm-uxs" class="hm L">
<g transform="translate(1679,2842)"><rect class="k19" width="86" height="57" rx="16"/><rect class="k20" x="98.5" width="86" height="57" rx="16"/><rect class="k15" x="197" width="86" height="57" rx="16"/><rect class="k18" x="295.5" width="86" height="57" rx="16"/><rect class="k18" x="394" width="86" height="57" rx="16"/><text x="43" y="42">73</text><text x="141.5" y="42">108</text><text x="240" y="42">33</text><text x="338.5" y="42">60</text><text x="437" y="42">67</text></g>
<g transform="translate(1679,2910)"><rect class="k17" width="86" height="57" rx="16"/><rect class="k17" x="98.5" width="86" height="57" rx="16"/><rect class="k13" x="197" width="86" height="57" rx="16"/><rect class="k17" x="295.5" width="86" height="57" rx="16"/><rect class="k16" x="394" width="86" height="57" rx="16"/><text x="43" y="42">45</text><text x="141.5" y="42">49</text><text x="240" y="42">17</text><text x="338.5" y="42">45</text><text x="437" y="42">37</text></g>
<g transform="translate(1679,2977)"><rect class="k15" width="86" height="57" rx="16"/><rect class="k15" x="98.5" width="86" height="57" rx="16"/><rect class="k11" x="197" width="86" height="57" rx="16"/><rect class="k14" x="295.5" width="86" height="57" rx="16"/><rect class="k14" x="394" width="86" height="57" rx="16"/><text x="43" y="42">33</text><text x="141.5" y="42">28</text><text x="240" y="42">13</text><text x="338.5" y="42">25</text><text x="437" y="42">23</text></g>
<g transform="translate(1679,3045)"><rect class="k14" width="86" height="57" rx="16"/><rect class="k14" x="98.5" width="86" height="57" rx="16"/><rect class="k6" x="197" width="86" height="57" rx="16"/><rect class="k13" x="295.5" width="86" height="57" rx="16"/><rect class="k13" x="394" width="86" height="57" rx="16"/><text x="43" y="42">23</text><text x="141.5" y="42">24</text><text x="240" y="42">3</text><text x="338.5" y="42">21</text><text x="437" y="42">18</text></g>
</g>
<text class="g" x="2190" y="2894" style="font-size:64px">novel.13077 UXS</text>
<text class="g" x="2190" y="2966" style="font-size:64px">PITA_42319 UXS</text>
<text class="g" x="2190" y="3034" style="font-size:64px">PITA_19062 UXS</text>
<text class="g" x="2190" y="3102" style="font-size:64px">PITA_04839 UXS</text>

<g id="hm-irx" class="hm L">
<g transform="translate(1686,3148)"><rect class="k17" width="87" height="57" rx="16"/><rect class="k19" x="99" width="87" height="57" rx="16"/><rect class="k15" x="198" width="87" height="57" rx="16"/><rect class="k17" x="297" width="87" height="57" rx="16"/><rect class="k18" x="396" width="87" height="57" rx="16"/><text x="43.5" y="42">45</text><text x="142.5" y="42">82</text><text x="241.5" y="42">28</text><text x="340.5" y="42">50</text><text x="439.5" y="42">62</text></g>
<g transform="translate(1686,3217)"><rect class="k11" width="87" height="57" rx="16"/><rect class="k10" x="99" width="87" height="57" rx="16"/><rect class="k8" x="198" width="87" height="57" rx="16"/><rect class="k11" x="297" width="87" height="57" rx="16"/><rect class="k10" x="396" width="87" height="57" rx="16"/><text x="43.5" y="42">11</text><text x="142.5" y="42">9</text><text x="241.5" y="42">6</text><text x="340.5" y="42">13</text><text x="439.5" y="42">10</text></g>
</g>
<text class="gb cr" x="2202" y="3208" style="font-size:60px">PITA_34043 IRX</text>
<text class="gb cr" x="2202" y="3277" style="font-size:60px">PITA_04046 IRX</text>

<g id="hm-rwa-gux" class="hm XL">
<g transform="translate(1225,3460)"><rect class="k16" width="86" height="63" rx="16"/><rect class="k18" x="99.5" width="86" height="63" rx="16"/><rect class="k11" x="199" width="86" height="63" rx="16"/><rect class="k16" x="298.5" width="86" height="63" rx="16"/><rect class="k16" x="398" width="86" height="63" rx="16"/><text x="43" y="46">37</text><text x="142.5" y="46">59</text><text x="242" y="46">11</text><text x="341.5" y="46">38</text><text x="441" y="46">38</text></g>
<g transform="translate(1229,3570)"><rect class="k13" width="86" height="55" rx="16"/><rect class="k15" x="99.5" width="86" height="55" rx="16"/><rect class="k10" x="199" width="86" height="55" rx="16"/><rect class="k14" x="298.5" width="86" height="55" rx="16"/><rect class="k14" x="398" width="86" height="55" rx="16"/><text x="43" y="42">19</text><text x="142.5" y="42">33</text><text x="242" y="42">10</text><text x="341.5" y="42">27</text><text x="441" y="42">26</text></g>
<g transform="translate(1229,3635)"><rect class="k10" width="86" height="55" rx="16"/><rect class="k13" x="99.5" width="86" height="55" rx="16"/><rect class="k8" x="199" width="86" height="55" rx="16"/><rect class="k10" x="298.5" width="86" height="55" rx="16"/><rect class="k12" x="398" width="86" height="55" rx="16"/><text x="43" y="42">10</text><text x="142.5" y="42">21</text><text x="242" y="42">6</text><text x="341.5" y="42">8</text><text x="441" y="42">16</text></g>
</g>
<text class="g" x="1743" y="3518" style="font-size:65px">novel.14875 RWA</text>
<text class="g" x="1745" y="3622" style="font-size:64px">novel.4784 GUX</text>
<text class="g" x="1745" y="3692" style="font-size:64px">PITA_35017 GUX</text>

<g id="legend-samples">
<text class="g" x="1507" y="3932" style="font-size:57px">Samples:</text>
<g class="pill"><rect x="1757" y="3875" width="155" height="78" rx="32"/><text x="1834" y="3932">Bark</text></g>
<g class="pill"><rect x="1923" y="3875" width="154" height="78" rx="32"/><text x="2000" y="3932">Bud</text></g>
<g class="pill"><rect x="2092" y="3875" width="152" height="78" rx="32"/><text x="2168" y="3932">Needle</text></g>
<g class="pill"><rect x="2257" y="3872" width="154" height="80" rx="32"/><text x="2334" y="3930">Root</text></g>
<g class="pill"><rect x="2422" y="3872" width="154" height="80" rx="32"/><text x="2499" y="3930">Twig</text></g>
</g>

<g id="colorbar">
<rect x="2798" y="3529" width="49" height="431" fill="url(#cb)"/>
<path d="M2849,3529 V3960 M2849,3529 h8 M2849,3600.5 h8 M2849,3672 h8 M2849,3743.5 h8 M2849,3815 h8 M2849,3886.5 h8 M2849,3958 h8" stroke="#000" stroke-width="4" fill="none"/>
<text class="cbl" x="2862" y="3539">3.00</text>
<text class="cbl" x="2862" y="3610">2.50</text>
<text class="cbl" x="2862" y="3682">2.00</text>
<text class="cbl" x="2862" y="3753">1.50</text>
<text class="cbl" x="2862" y="3825">1.00</text>
<text class="cbl" x="2862" y="3896">0.50</text>
<text class="cbl" x="2862" y="3968">0.00</text>
<text class="g" x="2637" y="4043" style="font-size:59px">log10(FPKM+1)</text>
</g>
</svg>
